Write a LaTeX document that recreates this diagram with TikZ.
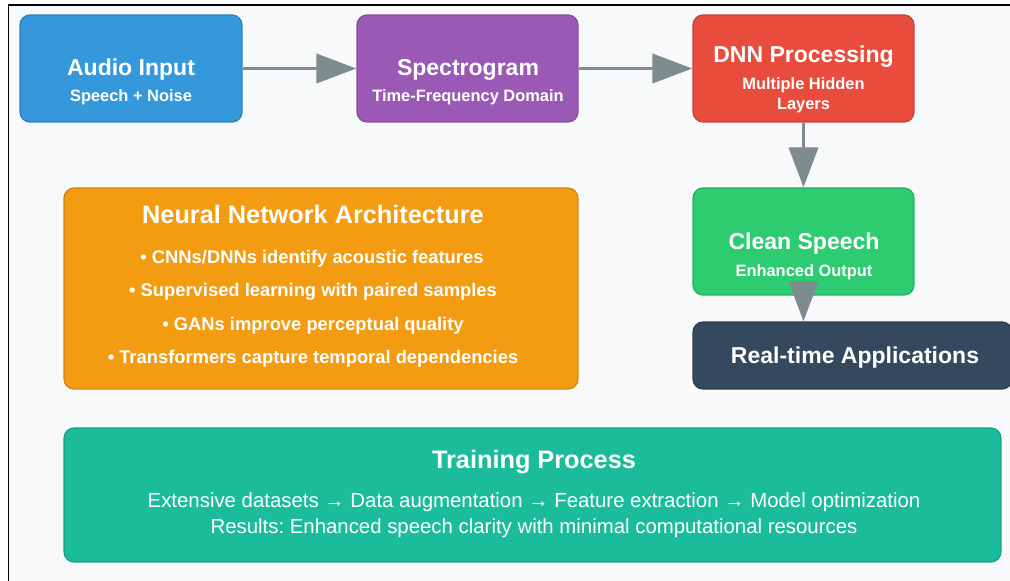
\documentclass[tikz,border=0pt]{standalone}
\usepackage{fontspec}
\setmainfont{Liberation Sans}
\frenchspacing
\definecolor{canvas}{HTML}{F8F9FA}
\definecolor{audioblue}{HTML}{3498DB}
\definecolor{specpurple}{HTML}{9B59B6}
\definecolor{dnnred}{HTML}{E74C3C}
\definecolor{cleangreen}{HTML}{2ECC71}
\definecolor{appnavy}{HTML}{34495E}
\definecolor{archorange}{HTML}{F39C12}
\definecolor{trainteal}{HTML}{1ABC9C}
\definecolor{arrowgray}{HTML}{7F8C8D}
\usetikzlibrary{arrows.meta,positioning}

\begin{document}
\begin{tikzpicture}[x=0.02cm, y=-0.02cm,
    box/.style={rectangle, rounded corners=0.2cm, fill=#1, draw=#1!85!black, line width=0.7pt, inner sep=0pt},
    ttl/.style={anchor=base, text=white, font=\fontsize{13.1}{15}\selectfont\bfseries},
    head/.style={anchor=base, text=white, font=\fontsize{14.4}{17}\selectfont\bfseries},
    sub/.style={anchor=base, text=white, font=\fontsize{9.35}{11}\selectfont\bfseries},
    item/.style={anchor=base, text=white, font=\fontsize{10.45}{12}\selectfont\bfseries},
    line/.style={anchor=base, text=white, font=\fontsize{11.6}{13}\selectfont},
    flow/.style={-{Triangle[length=0.8cm, width=0.58cm]}, arrowgray, line width=2.2pt}]
        \useasboundingbox (0,0) rectangle (1010,581);

        % Canvas and frame
        \fill[canvas] (8.5,5) rectangle (1010,581);
        \draw[line width=1.1pt] (8.5,581) -- (8.5,5) -- (1010,5);

        % Pipeline boxes
        \node[box=audioblue, minimum width=4.44cm, minimum height=2.14cm] (audio) at (131,68.5) {};
        \node[box=specpurple, minimum width=4.42cm, minimum height=2.14cm] (spec) at (467.5,68.5) {};
        \node[box=dnnred, minimum width=4.42cm, minimum height=2.14cm] (dnn) at (803.5,68.5) {};
        \node[box=cleangreen, minimum width=4.42cm, minimum height=2.14cm] (clean) at (803.5,241.5) {};
        \node[box=appnavy, minimum width=6.38cm, minimum height=1.34cm] (apps) at (852.5,355.5) {};

        % Info panels
        \node[box=archorange, minimum width=10.28cm, minimum height=4.02cm] (arch) at (321,288.5) {};
        \node[box=trainteal, minimum width=18.74cm, minimum height=2.68cm] (train) at (532.5,495) {};

        % Box texts
        \node[ttl] (audioT) at (131,76) {Audio Input};
        \node[sub] (audioS) at (131,102) {Speech + Noise};
        \node[ttl] (specT) at (468,76) {Spectrogram};
        \node[sub] (specS) at (468,102) {Time-Frequency Domain};
        \node[ttl] (dnnT) at (803.5,63) {DNN Processing};
        \node[sub] (dnnS) at (803.5,90) {Multiple Hidden};
        \node[sub] (dnnS2) at (803.5,110) {Layers};
        \node[ttl] (cleanT) at (804,249) {Clean Speech};
        \node[sub] (cleanS) at (804,276) {Enhanced Output};
        \node[ttl] (appsT) at (855,363) {Real-time Applications};

        % Panel texts
        \node[head] (archT) at (313,223) {Neural Network Architecture};
        \node[item] (arch1) at (312,263) {• CNNs/DNNs identify acoustic features};
        \node[item] (arch2) at (313,296) {• Supervised learning with paired samples};
        \node[item] (arch3) at (313,330) {• GANs improve perceptual quality};
        \node[item] (arch4) at (313,363) {• Transformers capture temporal dependencies};
        \node[head] (trainT) at (534,468) {Training Process};
        \node[line] (train1) at (534,507) {Extensive datasets → Data augmentation → Feature extraction → Model optimization};
        \node[line] (train2) at (534,533) {Results: Enhanced speech clarity with minimal computational resources};

        % Arrows
        \draw[flow] (audio) -- (spec);
        \draw[flow] (spec) -- (dnn);
        \draw[flow] (dnn) -- (clean);
        \draw[flow] (clean.south) -- (clean.south |- apps.north);
      \end{tikzpicture}
\end{document}
